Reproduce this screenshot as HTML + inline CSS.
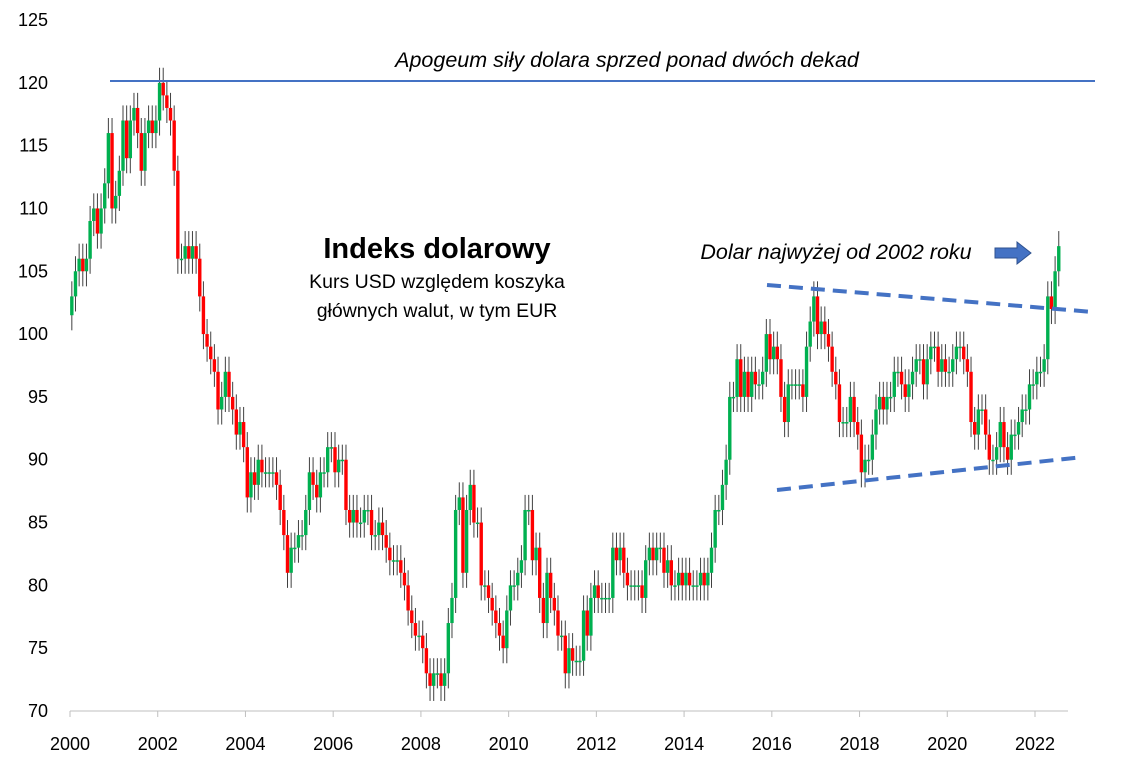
<!DOCTYPE html>
<html><head><meta charset="utf-8"><style>
body{margin:0;background:#fff;}
svg{display:block;font-family:"Liberation Sans",sans-serif;}
</style></head><body>
<svg id="chart" width="1122" height="767">
<g id="yaxis"></g>
<g id="xaxis"></g>
<g id="candles"></g>
<line x1="110" y1="81" x2="1095" y2="81" stroke="#4472c4" stroke-width="2"/>
<text x="627" y="67" text-anchor="middle" font-size="21.5" font-style="italic">Apogeum siły dolara sprzed ponad dwóch dekad</text>
<text x="437" y="258" text-anchor="middle" font-size="29" font-weight="bold">Indeks dolarowy</text>
<text x="437" y="288" text-anchor="middle" font-size="19.5">Kurs USD względem koszyka</text>
<text x="437" y="317" text-anchor="middle" font-size="19.5">głównych walut, w tym EUR</text>
<text x="836" y="259" text-anchor="middle" font-size="21.5" font-style="italic">Dolar najwyżej od 2002 roku</text>
<path d="M995,248 L1017,248 L1017,242 L1031,253 L1017,264 L1017,258 L995,258 Z" fill="#4472c4" stroke="#2f528f"/>
<line x1="767" y1="285" x2="1093" y2="312" stroke="#4472c4" stroke-width="4" stroke-dasharray="14 8"/>
<line x1="777" y1="490" x2="1083" y2="457" stroke="#4472c4" stroke-width="4" stroke-dasharray="14 8"/>
</svg>
<script>
const yTicks=[70,75,80,85,90,95,100,105,110,115,120,125];
const xTicks=[2000,2002,2004,2006,2008,2010,2012,2014,2016,2018,2020,2022];
const startOpen=101.5;
const closes=[
103,105,106,105,106,109,110,108,110,112,116,110,
111,113,117,114,117,118,116,113,116,117,116,117,
120,119,118,117,113,106,106,107,106,107,106,103,
100,99,98,97,94,95,97,95,94,92,93,91,
87,89,88,90,89,89,89,89,88,86,84,81,
83,83,84,84,86,89,88,87,89,89,91,91,
89,90,90,86,85,86,85,85,86,86,84,84,
85,84,83,82,82,82,81,80,78,77,76,76,
75,73,72,73,73,72,73,77,79,86,87,81,
86,88,85,85,80,80,79,78,77,76,75,78,
80,80,81,82,86,86,82,83,79,77,81,79,
78,76,76,73,75,74,74,74,78,76,79,80,
79,79,79,79,83,82,83,81,80,80,80,80,
79,82,83,82,83,83,81,82,80,80,81,80,
81,80,80,80,81,80,81,83,86,86,88,90,
95,95,98,95,97,95,97,96,96,97,100,98,
99,98,95,93,96,96,96,96,95,99,101,103,
100,101,100,99,97,96,93,93,93,95,93,92,
89,90,90,92,94,95,94,95,95,97,97,96,
95,96,97,98,98,96,98,99,99,97,98,97,
97,98,99,99,98,97,93,92,94,94,92,90,
90,91,93,91,90,92,92,93,94,94,96,96,
97,97,98,103,102,105,107];
const NS="http://www.w3.org/2000/svg";
const X=t=>70+(t-2000)*(965/22);
const Y=v=>711-(v-70)*(691/55);
function mk(tag,attrs,parent){const e=document.createElementNS(NS,tag);for(const k in attrs)e.setAttribute(k,attrs[k]);parent.appendChild(e);return e;}
const ya=document.getElementById('yaxis'),xa=document.getElementById('xaxis'),cg=document.getElementById('candles');
yTicks.forEach(v=>{const t=mk('text',{x:48,y:Y(v)+6,'text-anchor':'end','font-size':18,fill:'#000'},ya);t.textContent=v;

});
const ax=mk('line',{x1:70,y1:711,x2:1068,y2:711,stroke:'#bfbfbf','stroke-width':1},xa);


xTicks.forEach(y=>{const l=mk('line',{x1:X(y),y1:711,x2:X(y),y2:717,stroke:'#bfbfbf'},xa);


const t=mk('text',{x:X(y),y:750,'text-anchor':'middle','font-size':18,fill:'#000'},xa);t.textContent=y;

});
let prev=startOpen;
closes.forEach((c,i)=>{const o=prev;prev=c;const t=2000+(i+0.5)/12;const x=X(t);
const hi=Math.max(o,c)+1.2,lo=Math.min(o,c)-1.2;
const w=mk('line',{x1:x,y1:Y(hi),x2:x,y2:Y(lo),stroke:'#404040','stroke-width':1},cg);


const top=Y(Math.max(o,c)),bot=Y(Math.min(o,c));
const b=mk('rect',{x:x-1.7,y:top,width:3.4,height:Math.max(1.5,bot-top),fill:c>=o?'#00b050':'#ff0000'},cg);

});
</script>
</body></html>
